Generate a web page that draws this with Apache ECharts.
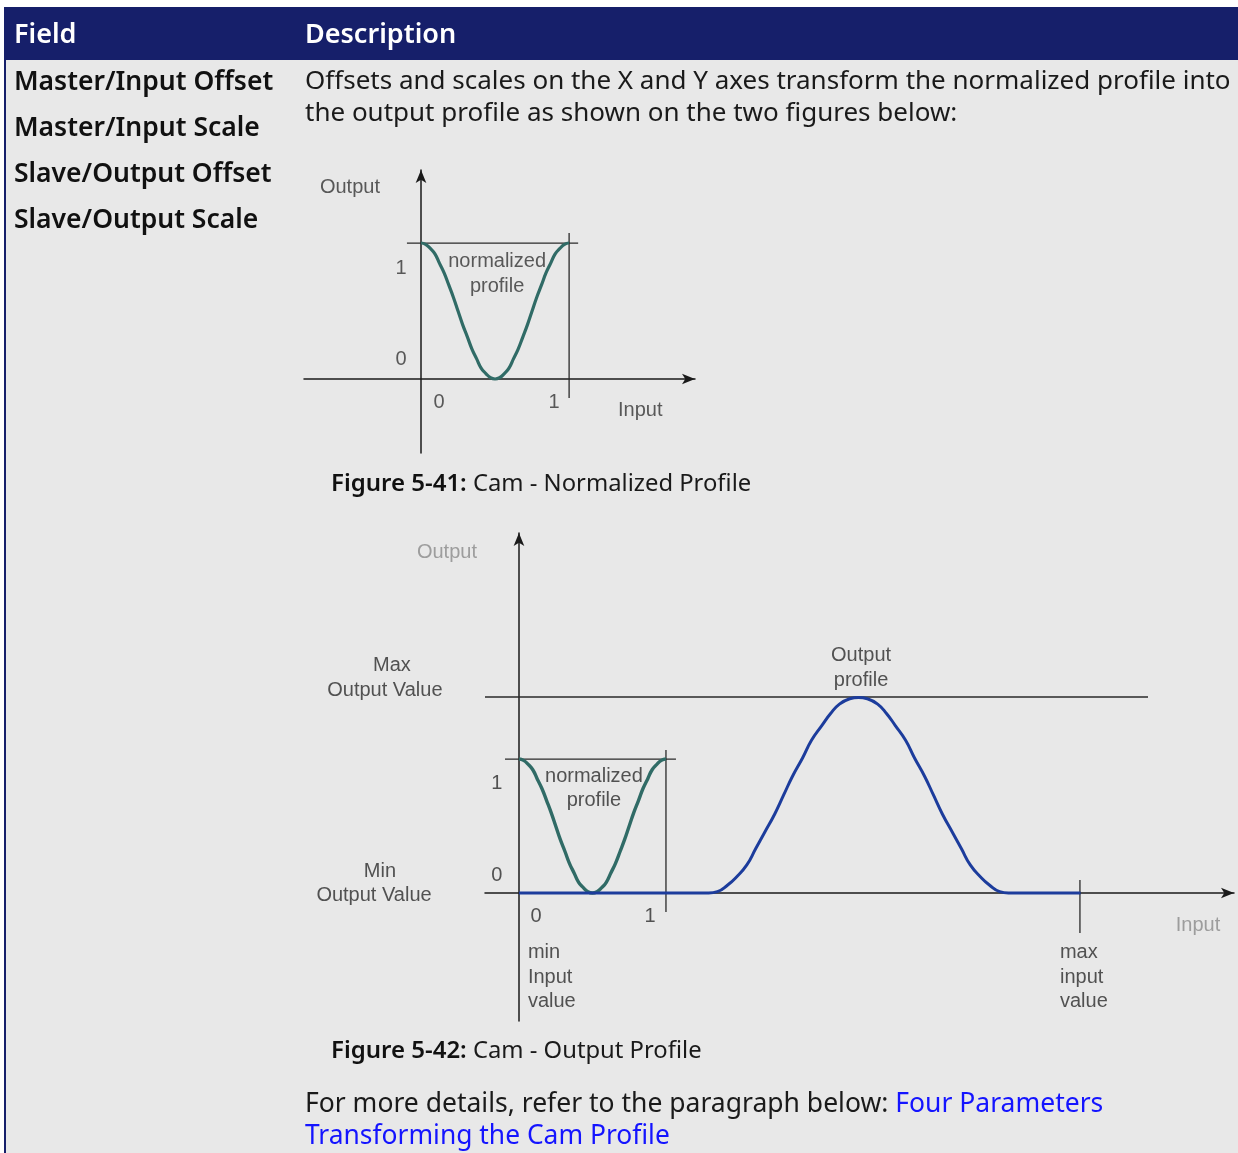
<!DOCTYPE html>
<html><head><meta charset="utf-8">
<script src="https://cdn.jsdelivr.net/npm/echarts@6/dist/echarts.min.js"></script>
<style>html,body{margin:0;padding:0;background:#fff;overflow:hidden}#c{width:1238px;height:1153px}</style>
</head><body><div id="c"></div>
<script>
// ---- Figure 5-41: normalized profile (input 0..1, output 0..1) ----
const normX = [0, 0.031, 0.063, 0.094, 0.125, 0.156, 0.188, 0.219, 0.25, 0.281, 0.313, 0.344, 0.375, 0.406, 0.438, 0.469, 0.5,
               0.531, 0.563, 0.594, 0.625, 0.656, 0.688, 0.719, 0.75, 0.781, 0.813, 0.844, 0.875, 0.906, 0.938, 0.969, 1];
const normY = [1, 0.99, 0.96, 0.92, 0.85, 0.78, 0.69, 0.6, 0.5, 0.4, 0.31, 0.22, 0.15, 0.08, 0.04, 0.01, 0,
               0.01, 0.04, 0.08, 0.15, 0.22, 0.31, 0.4, 0.5, 0.6, 0.69, 0.78, 0.85, 0.92, 0.96, 0.99, 1];

// ---- Figure 5-42: output profile (same units as the normalized profile) ----
const outX = [0, 1.2, 1.29, 1.35, 1.42, 1.48, 1.55, 1.61, 1.67, 1.74, 1.8, 1.86, 1.93, 1.99, 2.06, 2.12, 2.18, 2.25, 2.31,
              2.37, 2.44, 2.5, 2.56, 2.63, 2.69, 2.76, 2.82, 2.88, 2.95, 3.01, 3.07, 3.14, 3.2, 3.27, 3.33, 3.43, 3.82];
const outY = [0, 0, 0, 0.01, 0.06, 0.12, 0.21, 0.33, 0.45, 0.59, 0.73, 0.87, 1.01, 1.14, 1.25, 1.34, 1.41, 1.45, 1.46,
              1.45, 1.41, 1.34, 1.25, 1.14, 1.01, 0.87, 0.73, 0.59, 0.45, 0.33, 0.21, 0.12, 0.06, 0.01, 0, 0, 0];

// axis extents
const fig1XRange = [-0.79, 1.85];
const fig1YRange = [-0.544, 1.537];
const fig2XRange = [-0.231, 4.864];
const fig2YRange = [-0.955, 2.687];

// guide lines [x1, y1, x2, y2]
const fig1Guides = [[-0.095, 1, 1.061, 1], [1, 1.074, 1, -0.14]];
const fig2Guides = [[-0.231, 1.463, 4.279, 1.463], [-0.095, 1, 1.068, 1], [1, 1.067, 1, -0.142], [3.816, 0.097, 3.816, -0.299]];

// annotation texts and anchors
const fig1Texts = ['Output', '1', '0', '0', '1', 'Input', 'normalized\nprofile'];
const fig1Anchors = [[-0.48, 1.412], [-0.135, 0.816], [-0.135, 0.14], [0.122, -0.169], [0.899, -0.169], [1.48, -0.235], [0.514, 0.772]];
const fig2Texts = ['Max', 'Output Value', 'Output\nprofile', '1', 'normalized\nprofile', 'Min', 'Output Value', '0', '0', '1'];
const fig2Anchors = [[-0.864, 1.697], [-0.912, 1.51], [2.327, 1.679], [-0.15, 0.821], [0.51, 0.78],
                     [-0.946, 0.164], [-0.986, -0.015], [-0.15, 0.134], [0.116, -0.172], [0.891, -0.172]];
const fig2GrayTexts = ['Output', 'Input'];
const fig2GrayAnchors = [[-0.49, 2.545], [4.619, -0.239]];
const fig2LeftTexts = ['min\nInput\nvalue', 'max\ninput\nvalue'];
const fig2LeftAnchors = [[0.061, -0.627], [3.68, -0.627]];

// page texts
const headerTexts = ['Field', 'Description'];
const fieldNames = ['Master/Input Offset', 'Master/Input Scale', 'Slave/Output Offset', 'Slave/Output Scale'];
const descLines = ['Offsets and scales on the X and Y axes transform the normalized profile into', 'the output profile as shown on the two figures below:'];
const captions = [['Figure 5-41:', ' Cam - Normalized Profile'], ['Figure 5-42:', ' Cam - Output Profile']];
const footer = ['For more details, refer to the paragraph below: ', 'Four Parameters', 'Transforming the Cam Profile'];

const NAVY = '#161f6a', TEAL = '#306b66', BLUE = '#1c3c9c';
const SANS = '"Noto Sans", "Open Sans", sans-serif';
const ARIAL = '"Liberation Sans", Arial, sans-serif';

function zip(xs, ys) { return xs.map((x, i) => [x, ys[i]]); }
function axisPair(idx, xr, yr) {
  const common = {
    gridIndex: idx, type: 'value',
    axisTick: { show: false }, axisLabel: { show: false }, splitLine: { show: false },
    axisLine: { show: true, onZero: true, symbol: ['none', 'arrow'], symbolSize: [8, 13],
      lineStyle: { color: '#1a1a1a', width: 1.5 } }
  };
  return [Object.assign({}, common, { min: xr[0], max: xr[1] }), Object.assign({}, common, { min: yr[0], max: yr[1] })];
}
function guideSeries(idx, segs) {
  return segs.map(s => ({
    type: 'line', xAxisIndex: idx, yAxisIndex: idx, symbol: 'none', silent: true, clip: false,
    data: [[s[0], s[1]], [s[2], s[3]]], lineStyle: { color: '#2a2a2a', width: 1.3 }, z: 3
  }));
}
function textSeries(idx, texts, anchors, color, align) {
  return {
    type: 'scatter', xAxisIndex: idx, yAxisIndex: idx, clip: false, silent: true, symbolSize: 1,
    itemStyle: { color: 'rgba(0,0,0,0)' }, z: 5,
    data: anchors.map((a, i) => ({ value: a, name: texts[i] })),
    label: { show: true, position: 'inside', formatter: p => p.name, color: color,
      fontFamily: ARIAL, fontSize: 20, lineHeight: 24.5, align: align || 'center', verticalAlign: 'middle' }
  };
}

const a1 = axisPair(0, fig1XRange, fig1YRange);
const a2 = axisPair(1, fig2XRange, fig2YRange);

function txt(x, y, text, font, fill) {
  return { type: 'text', x: x, y: y, style: { text: text, fill: fill, font: font, textVerticalAlign: 'middle', verticalAlign: 'middle' } };
}
const graphic = [
  { type: 'rect', shape: { x: 4, y: 7, width: 1234, height: 53 }, style: { fill: NAVY }, z: -10 },
  { type: 'rect', shape: { x: 4, y: 60, width: 2, height: 1093 }, style: { fill: NAVY }, z: -10 },
  { type: 'rect', shape: { x: 6, y: 60, width: 1232, height: 1093 }, style: { fill: '#e8e8e8' }, z: -10 },
  txt(14, 35, headerTexts[0], '600 27px ' + SANS, '#fff'),
  txt(305, 35, headerTexts[1], '600 27px ' + SANS, '#fff')
];
fieldNames.forEach((t, i) => graphic.push(txt(14, 82 + i * 46, t, '600 26.5px ' + SANS, '#111')));
descLines.forEach((t, i) => graphic.push(txt(305, 82 + i * 32, t, '26px ' + SANS, '#1a1a1a')));
[484, 1051].forEach((y, i) => graphic.push({ type: 'text', x: 331, y: y,
  style: { text: '{b|' + captions[i][0] + '}{n|' + captions[i][1] + '}', textVerticalAlign: 'middle', verticalAlign: 'middle',
    rich: { b: { fontFamily: SANS, fontSize: 24, fontWeight: 600, fill: '#111', color: '#111' },
            n: { fontFamily: SANS, fontSize: 23.8, fill: '#1a1a1a', color: '#1a1a1a' } } } }));
graphic.push({ type: 'text', x: 305, y: 1104,
  style: { text: '{n|' + footer[0] + '}{l|' + footer[1] + '}', textVerticalAlign: 'middle', verticalAlign: 'middle',
    rich: { n: { fontFamily: SANS, fontSize: 26.5, fill: '#1a1a1a', color: '#1a1a1a' },
            l: { fontFamily: SANS, fontSize: 26.5, fill: '#1414ff', color: '#1414ff' } } } });
graphic.push(txt(305, 1136, footer[2], '26.4px ' + SANS, '#1414ff'));

const option = {
  animation: false,
  backgroundColor: '#fff',
  grid: [
    { left: 304, top: 170, width: 391, height: 283, containLabel: false, outerBoundsMode: 'none' },
    { left: 485, top: 533, width: 749, height: 488, containLabel: false, outerBoundsMode: 'none' }
  ],
  xAxis: [a1[0], a2[0]],
  yAxis: [a1[1], a2[1]],
  graphic: graphic,
  series: [
    ...guideSeries(0, fig1Guides),
    { type: 'line', xAxisIndex: 0, yAxisIndex: 0, symbol: 'none', smooth: true, clip: false,
      data: zip(normX, normY), lineStyle: { color: TEAL, width: 3.2 }, z: 4 },
    textSeries(0, fig1Texts, fig1Anchors, '#333'),
    ...guideSeries(1, fig2Guides),
    { type: 'line', xAxisIndex: 1, yAxisIndex: 1, symbol: 'none', smooth: true, clip: false,
      data: zip(normX, normY), lineStyle: { color: TEAL, width: 3.4 }, z: 4 },
    { type: 'line', xAxisIndex: 1, yAxisIndex: 1, symbol: 'none', smooth: true, clip: false,
      data: zip(outX, outY), lineStyle: { color: BLUE, width: 3 }, z: 4 },
    textSeries(1, fig2Texts, fig2Anchors, '#2a2a2a'),
    textSeries(1, fig2GrayTexts, fig2GrayAnchors, '#8a8a8a'),
    textSeries(1, fig2LeftTexts, fig2LeftAnchors, '#2a2a2a', 'left')
  ]
};
const chart = echarts.init(document.getElementById('c'), null, { renderer: 'canvas', width: 1238, height: 1153 });
chart.setOption(option);
</script>
</body></html>
